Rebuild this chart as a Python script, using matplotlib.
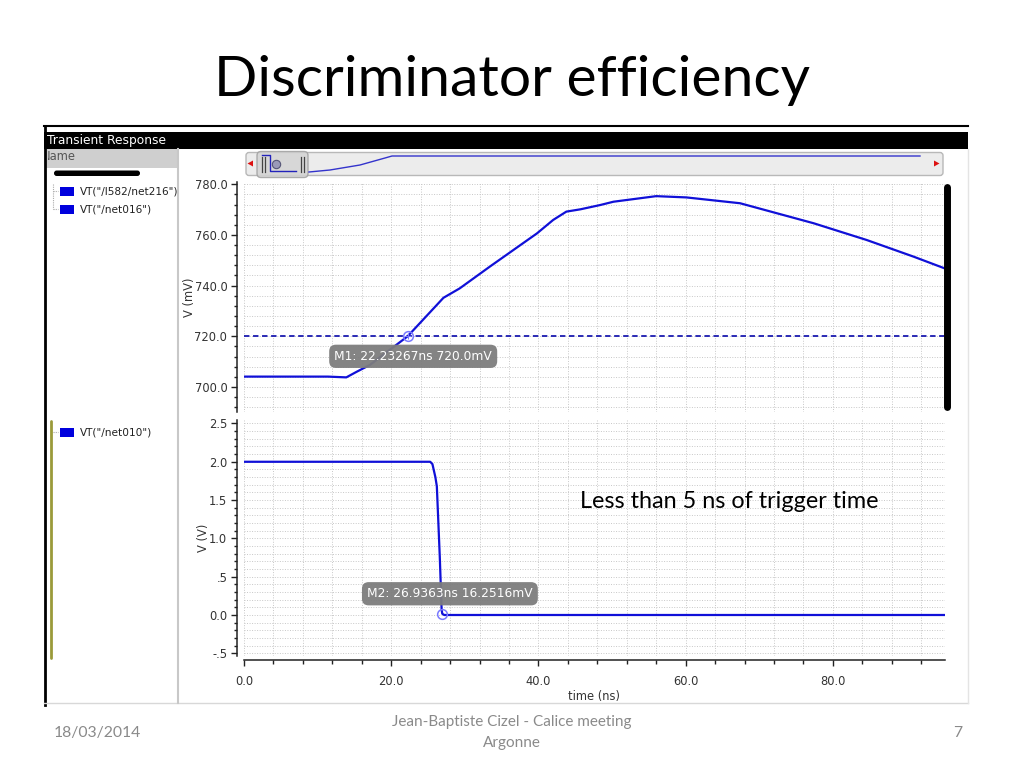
import matplotlib
matplotlib.use("Agg")
import matplotlib.pyplot as plt
from matplotlib.patches import Rectangle, FancyBboxPatch, Polygon
from matplotlib.ticker import MultipleLocator, FixedLocator, FixedFormatter

# ---------------- data ----------------
title = "Discriminator efficiency"
# top pane: VT("/I582/net216") in mV
t_top = [0, 11.4, 13.9, 15.3, 17.1, 22.23, 27.1, 29.3, 33.4, 39.8, 42.0, 43.8,
         45.7, 48.4, 50.2, 56.0, 60.1, 67.4, 77.4, 84.6, 91.0, 95.2]
v_top = [704.1, 704.1, 703.8, 706.0, 708.7, 720.0, 735.2, 738.9, 747.5, 760.6,
         765.9, 769.2, 770.1, 771.8, 773.1, 775.3, 774.8, 772.5, 764.6, 758.0,
         751.4, 746.8]
threshold_mV = 720.0
# bottom pane: VT("/net010") in V
t_bot = [0, 25.3, 25.6, 26.0, 26.2, 26.6, 26.85, 26.94, 27.2, 95.2]
v_bot = [2.0, 2.0, 1.97, 1.8, 1.68, 0.76, 0.07, 0.016, 0.0, 0.0]
m1 = (22.23267, 720.0)
m2 = (26.9363, 0.0162516)
m1_label = "M1: 22.23267ns 720.0mV"
m2_label = "M2: 26.9363ns 16.2516mV"
top_ticks = [700, 720, 740, 760, 780]
top_ticklabels = ["700.0", "720.0", "740.0", "760.0", "780.0"]
bot_ticks = [-0.5, 0.0, 0.5, 1.0, 1.5, 2.0, 2.5]
bot_ticklabels = ["-.5", "0.0", ".5", "1.0", "1.5", "2.0", "2.5"]
x_ticks = [0, 20, 40, 60, 80]
x_ticklabels = ["0.0", "20.0", "40.0", "60.0", "80.0"]
legend_top = ['VT("/I582/net216")', 'VT("/net016")']
legend_bot = ['VT("/net010")']
note = "Less than 5 ns of trigger time"
footer_date = "18/03/2014"
footer_mid = "Jean-Baptiste Cizel - Calice meeting\nArgonne"
footer_page = "7"

W, H = 1024, 768
fig = plt.figure(figsize=(W / 100, H / 100), dpi=100)
fig.patch.set_facecolor("white")

def box(l, t, r, b):
    return [l / W, 1 - b / H, (r - l) / W, (b - t) / H]

BLUE = "#1010d8"
GRID = "#c8c8c8"
TICKC = "#333333"

def style_axis(ax):
    ax.set_facecolor("none")
    for s in ["top", "right", "bottom"]:
        ax.spines[s].set_visible(False)
    ax.spines["left"].set_position(("outward", 5))
    ax.spines["left"].set_color("#222222")
    ax.spines["left"].set_linewidth(1.1)
    ax.tick_params(axis="y", which="major", direction="out", length=4.5, width=1,
                   color="#222222", labelsize=8.3, labelcolor=TICKC, pad=2.5)
    ax.tick_params(axis="y", which="minor", direction="out", length=2.3, width=1,
                   color="#222222")
    ax.grid(which="both", linestyle=(0, (1, 1.6)), color=GRID, linewidth=0.7)
    ax.set_axisbelow(True)

LBL_BOX = dict(boxstyle="round,pad=0.42,rounding_size=0.55",
               fc="#7d7d7d", ec="none", alpha=0.95)

# ---------------- top axes ----------------
ax1 = fig.add_axes(box(244, 181.7, 944.7, 412.35), zorder=2)
ax1.plot(t_top, v_top, color=BLUE, lw=1.6, solid_joinstyle="round")
ax1.axhline(threshold_mV, color="#1a1ab0", lw=1.3, linestyle=(0, (3, 2)))
ax1.plot([m1[0]], [m1[1]], marker="o", ms=7, mfc="none", mec="#7a7aff", mew=1.1)
ax1.plot([m1[0]], [m1[1]], marker="+", ms=5, mec="#7a7aff", mew=0.8)
ax1.set_xlim(0, 95.2)
ax1.set_ylim(690, 781)
style_axis(ax1)
ax1.xaxis.set_major_locator(MultipleLocator(4))
ax1.tick_params(axis="x", which="both", bottom=False, labelbottom=False)
ax1.yaxis.set_major_locator(FixedLocator(top_ticks))
ax1.yaxis.set_major_formatter(FixedFormatter(top_ticklabels))
ax1.yaxis.set_minor_locator(MultipleLocator(4))
ax1.set_ylabel("V (mV)", fontsize=8.3, color=TICKC, labelpad=-1)
ax1.annotate(m1_label, xy=m1, xytext=(4.0, -14.4), textcoords="offset points",
             ha="center", va="center", fontsize=8.8, color="white", bbox=LBL_BOX)

# ---------------- bottom axes ----------------
ax2 = fig.add_axes(box(244, 420.4, 944.7, 655.6), zorder=2)
ax2.plot(t_bot, v_bot, color=BLUE, lw=1.6)
ax2.plot([m2[0]], [m2[1]], marker="o", ms=7, mfc="none", mec="#7a7aff", mew=1.1)
ax2.set_xlim(0, 95.2)
ax2.set_ylim(-0.53, 2.54)
style_axis(ax2)
ax2.spines["bottom"].set_visible(True)
ax2.spines["bottom"].set_position(("outward", 3.2))
ax2.spines["bottom"].set_color("#222222")
ax2.spines["bottom"].set_linewidth(1.1)
ax2.xaxis.set_major_locator(FixedLocator(x_ticks))
ax2.xaxis.set_major_formatter(FixedFormatter(x_ticklabels))
ax2.xaxis.set_minor_locator(MultipleLocator(4))
ax2.tick_params(axis="x", which="major", direction="out", length=4.5, width=1,
                color="#222222", labelsize=8.3, labelcolor=TICKC, pad=6)
ax2.tick_params(axis="x", which="minor", direction="out", length=3, width=1,
                color="#222222")
ax2.yaxis.set_major_locator(FixedLocator(bot_ticks))
ax2.yaxis.set_major_formatter(FixedFormatter(bot_ticklabels))
ax2.yaxis.set_minor_locator(MultipleLocator(0.1))
ax2.set_ylabel("V (V)", fontsize=8.3, color=TICKC, labelpad=-1)
ax2.set_xlabel("time (ns)", fontsize=8.3, color=TICKC, labelpad=2)
ax2.annotate(m2_label, xy=m2, xytext=(5.5, 14.4), textcoords="offset points",
             ha="center", va="center", fontsize=8.8, color="white", bbox=LBL_BOX)

# ---------------- window chrome (overlay in pixel coords) ----------------
ov = fig.add_axes([0, 0, 1, 1], zorder=5)
ov.set_xlim(0, W)
ov.set_ylim(H, 0)
ov.axis("off")
ov.patch.set_alpha(0)

# left panel header (text partly hidden by the frame, as in the screenshot)
ov.add_patch(Rectangle((45, 149), 132, 19, fc="#cfcfcf", ec="none", zorder=1))
ov.text(42, 157, "Name", color="#555555", fontsize=8.3, va="center",
        ha="left", family="DejaVu Sans", zorder=2)
ov.add_patch(Rectangle((30, 148), 17.5, 21, fc="white", ec="none", zorder=3))
ov.add_patch(Rectangle((45, 149), 2.5, 19, fc="#cfcfcf", ec="none", zorder=3))

# frame lines
ov.plot([44, 968], [126, 126], color="black", lw=1.5, zorder=4)
ov.plot([44.5, 44.5], [126, 705], color="black", lw=2, zorder=4)
ov.plot([44, 968], [703, 703], color="#d8d8d8", lw=1, zorder=4)
ov.plot([967.5, 967.5], [149, 703], color="#e4e4e4", lw=1, zorder=4)
ov.add_patch(Rectangle((44, 132), 924, 17, fc="black", ec="none", zorder=4))
ov.text(47, 140.5, "Transient Response", color="white", fontsize=8.8,
        va="center", ha="left", family="DejaVu Sans", zorder=5)
ov.plot([177.5, 177.5], [149, 703], color="#c8c8c8", lw=1.5, zorder=4)
ov.add_patch(FancyBboxPatch((54, 170.5), 86, 5.5,
                            boxstyle="round,pad=0,rounding_size=2.7",
                            fc="black", ec="none", zorder=4))
# tree connectors
ov.plot([53, 53], [184, 209], color="#aaaaaa", lw=0.8, linestyle=(0, (1, 1)))
for yy in [191, 209]:
    ov.plot([53, 58], [yy, yy], color="#aaaaaa", lw=0.8, linestyle=(0, (1, 1)))
ov.plot([53, 58], [432, 432], color="#aaaaaa", lw=0.8, linestyle=(0, (1, 1)))
# legend entries
for yy, lab in zip([191.5, 209], legend_top):
    ov.add_patch(Rectangle((60, yy - 4.5), 14, 9, fc="#0000dd", ec="none"))
    ov.text(79.5, yy, lab, fontsize=7.6, va="center", ha="left", color="#222222")
for yy, lab in zip([432.5], legend_bot):
    ov.add_patch(Rectangle((60, yy - 4.5), 14, 9, fc="#0000dd", ec="none"))
    ov.text(79.5, yy, lab, fontsize=7.6, va="center", ha="left", color="#222222")
ov.plot([50.5, 50.5], [421, 658], color="#9a9a3a", lw=2, solid_capstyle="round")

# scrollbar
ov.add_patch(FancyBboxPatch((246, 152.5), 697, 23,
                            boxstyle="round,pad=0,rounding_size=3",
                            fc="#ececec", ec="#b8b8b8", lw=1))
ov.add_patch(Polygon([[247.5, 163.5], [253, 160.5], [253, 166.5]], closed=True,
                     fc="#dd1111", ec="none"))
ov.add_patch(Polygon([[939.5, 163.5], [934, 160.5], [934, 166.5]], closed=True,
                     fc="#dd1111", ec="none"))
ov.plot([262, 270, 270, 296], [155, 155, 171, 171], color="#2222bb", lw=1)
ov.plot([309, 330, 360, 385, 392, 920], [172, 170, 165, 158, 156, 156],
        color="#3333cc", lw=1)
ov.add_patch(FancyBboxPatch((257, 151.5), 51, 26,
                            boxstyle="round,pad=0,rounding_size=4",
                            fc="#d4d4d4", ec="#a0a0a0", lw=1, alpha=0.85))
for xx in [262, 264.5, 301, 303.5]:
    ov.plot([xx, xx], [157, 172], color="#444444", lw=0.9)
ov.plot([276], [164], marker="o", ms=6, mfc="#9a9ab8", mec="#555577", mew=0.8)

# thick marker bar on the right
ov.plot([947, 947], [187, 407], color="black", lw=5, solid_capstyle="round")

# ---------------- slide text ----------------
fig.text(512 / W, 1 - 80 / H, title, ha="center", va="center", fontsize=41,
         family="Lato", color="black")
fig.text(729 / W, 1 - 502 / H, note, ha="center", va="center", fontsize=16.8,
         family="Lato", color="black", zorder=10)
fig.text(97 / W, 1 - 733 / H, footer_date, ha="center", va="center",
         fontsize=11.3, family="Lato", color="#8a8a8a")
fig.text(512 / W, 1 - 732.5 / H, footer_mid, ha="center", va="center",
         fontsize=11.0, family="Lato", color="#8a8a8a", linespacing=1.55)
fig.text(958 / W, 1 - 733 / H, footer_page, ha="center", va="center",
         fontsize=11.3, family="Lato", color="#8a8a8a")

fig.savefig("out.png", dpi=100, facecolor="white")
